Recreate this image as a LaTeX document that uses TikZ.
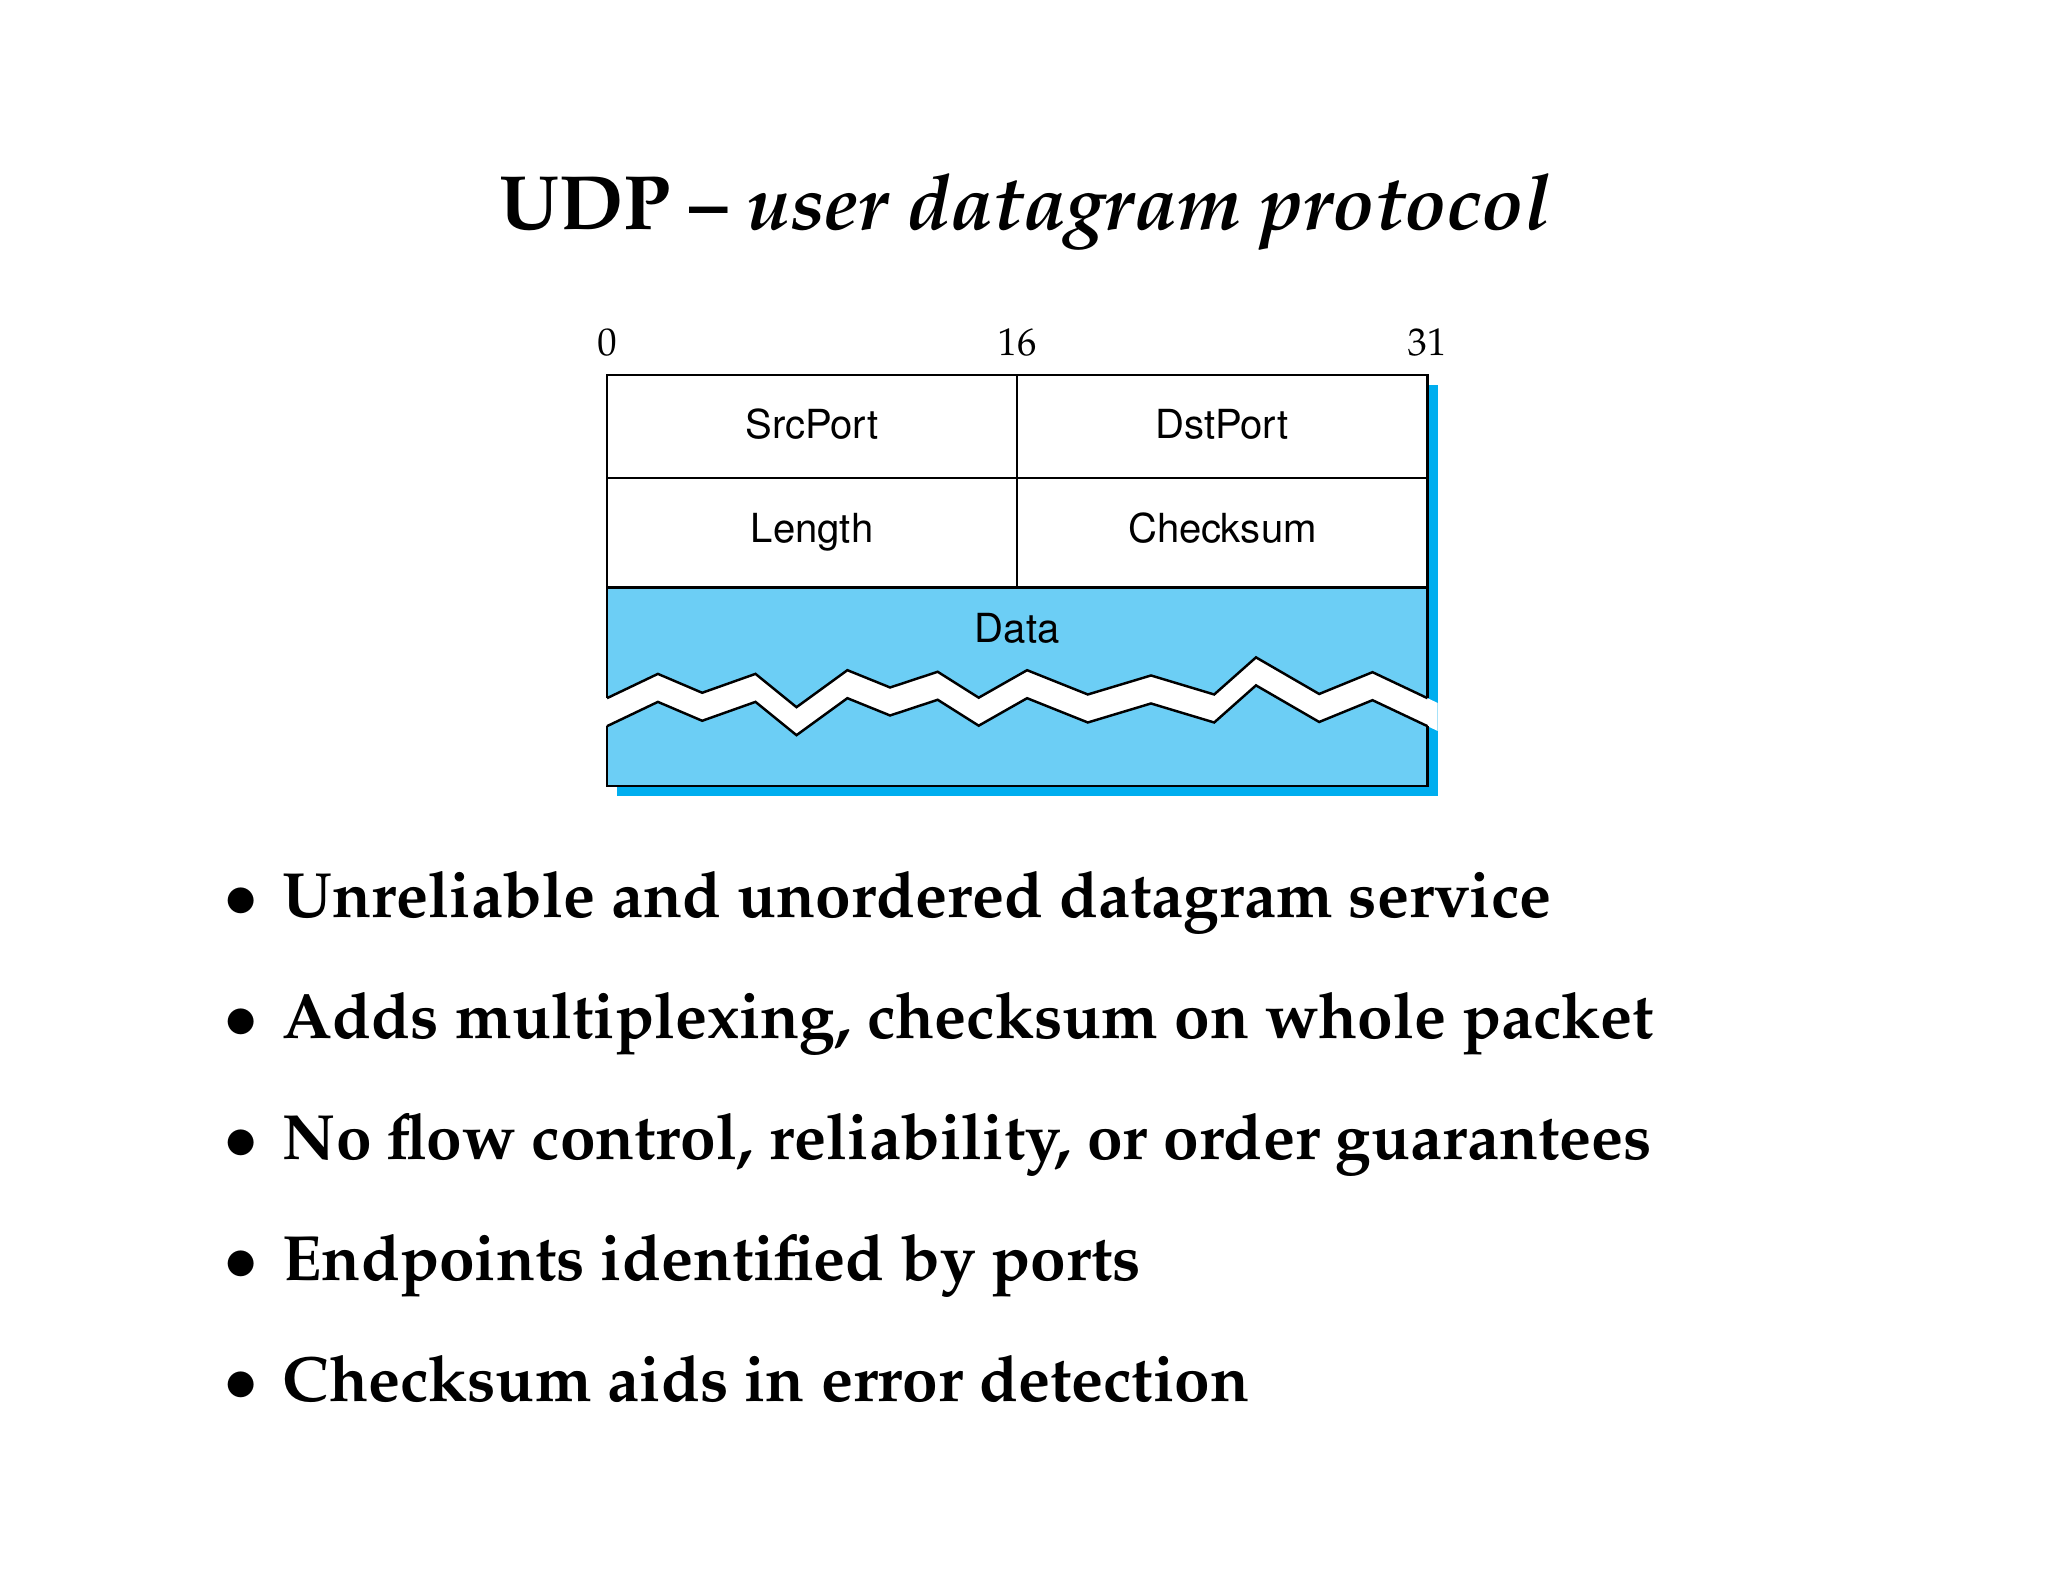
\documentclass[tikz,border=0pt]{standalone}
\usepackage[T1]{fontenc}
\usepackage{mathpazo}
\usepackage{xcolor}
\definecolor{cyan3}{RGB}{0,174,239}
\definecolor{sky3}{RGB}{108,206,245}
\usepackage{tikz}
\newcommand{\fieldfont}{\fontfamily{phv}\fontsize{11.4}{13}\selectfont}
\newcommand{\bitfont}{\fontsize{11}{13}\selectfont}
\newcommand{\pointfont}{\fontsize{18.2}{22}\selectfont\bfseries}

\begin{document}
\begin{tikzpicture}[line width=0.7pt,
    field/.style={font=\fieldfont, inner sep=0pt, text height=8.2pt, text depth=2.4pt},
    bitno/.style={font=\bitfont, anchor=base, inner sep=0pt},
    point/.style={font=\pointfont, anchor=base west, inner sep=0pt}]
  \useasboundingbox (0,0) rectangle (20.48,15.82);

  % Title
  \node[anchor=base, font=\fontsize{21.9}{26}\selectfont\bfseries] (title) at (10.25,13.52)
    {UDP -- \textit{user datagram protocol}};

  % Bit positions
  \node[bitno] (bit0) at (6.07,12.26) {0};
  \node[bitno] (bit16) at (10.17,12.26) {16};
  \node[bitno] (bit31) at (14.27,12.26) {31};

  % Header box corners
  \coordinate (nw) at (6.07,12.072);
  \coordinate (ne) at (14.275,12.072);
  \coordinate (sw) at (6.07,7.958);
  \coordinate (se) at (14.275,7.958);

  % Drop shadow
  \fill[cyan3] ([shift={(0.1,-0.1)}]nw) rectangle ([shift={(0.1,-0.1)}]se);

  % Fills: header rows white, data light blue
  \fill[white] (nw) rectangle (14.275,9.943);
  \fill[sky3] (6.07,9.943) rectangle (se);

  % White tear across the data (runs over the shadow too)
  \fill[white] (6.07,8.838) -- (6.579,9.081) -- (7.022,8.892) -- (7.555,9.081)
    -- (7.965,8.748) -- (8.474,9.118) -- (8.901,8.945) -- (9.377,9.102)
    -- (9.787,8.843) -- (10.271,9.118) -- (10.878,8.875) -- (11.510,9.065)
    -- (12.142,8.875) -- (12.560,9.246) -- (13.192,8.880) -- (13.725,9.098)
    -- (14.275,8.838) -- (14.375,8.791)
    -- (14.375,8.511) -- (14.275,8.558) -- (13.725,8.818) -- (13.192,8.600)
    -- (12.560,8.966) -- (12.142,8.595) -- (11.510,8.785) -- (10.878,8.595)
    -- (10.271,8.838) -- (9.787,8.563) -- (9.377,8.822) -- (8.901,8.665)
    -- (8.474,8.838) -- (7.965,8.468) -- (7.555,8.801) -- (7.022,8.612)
    -- (6.579,8.801) -- (6.07,8.558) -- cycle;

  % Outline
  \draw (6.07,8.838) -- (nw) -- (ne) -- (14.275,8.838);
  \draw (6.07,8.558) -- (sw) -- (se) -- (14.275,8.558);
  \draw (6.07,11.04) -- (14.275,11.04);
  \draw (6.07,9.943) -- (14.275,9.943);
  \draw (10.1725,12.072) -- (10.1725,9.943);

  % Zigzag edges of the tear
  \draw (6.07,8.838) -- (6.579,9.081) -- (7.022,8.892) -- (7.555,9.081)
    -- (7.965,8.748) -- (8.474,9.118) -- (8.901,8.945) -- (9.377,9.102)
    -- (9.787,8.843) -- (10.271,9.118) -- (10.878,8.875) -- (11.510,9.065)
    -- (12.142,8.875) -- (12.560,9.246) -- (13.192,8.880) -- (13.725,9.098)
    -- (14.275,8.838);
  \draw (6.07,8.558) -- (6.579,8.801) -- (7.022,8.612) -- (7.555,8.801)
    -- (7.965,8.468) -- (8.474,8.838) -- (8.901,8.665) -- (9.377,8.822)
    -- (9.787,8.563) -- (10.271,8.838) -- (10.878,8.595) -- (11.510,8.785)
    -- (12.142,8.595) -- (12.560,8.966) -- (13.192,8.600) -- (13.725,8.818)
    -- (14.275,8.558);

  % Field labels
  \node[field] (srcport) at (8.121,11.54) {SrcPort};
  \node[field] (dstport) at (12.224,11.54) {DstPort};
  \node[field] (length) at (8.121,10.50) {Length};
  \node[field] (checksum) at (12.224,10.50) {Checksum};
  \node[field] (data) at (10.1725,9.50) {Data};

  % Bullet points
  \node[point] (p1) at (2.227,6.64) {$\bullet$\hspace{0.24cm}Unreliable and unordered datagram service};
  \node[point] (p2) at (2.227,5.431) {$\bullet$\hspace{0.24cm}Adds multiplexing, checksum on whole packet};
  \node[point] (p3) at (2.227,4.222) {$\bullet$\hspace{0.24cm}No flow control, reliability, or order guarantees};
  \node[point] (p4) at (2.227,3.013) {$\bullet$\hspace{0.24cm}Endpoints identified by ports};
  \node[point] (p5) at (2.227,1.804) {$\bullet$\hspace{0.24cm}Checksum aids in error detection};
\end{tikzpicture}
\end{document}
